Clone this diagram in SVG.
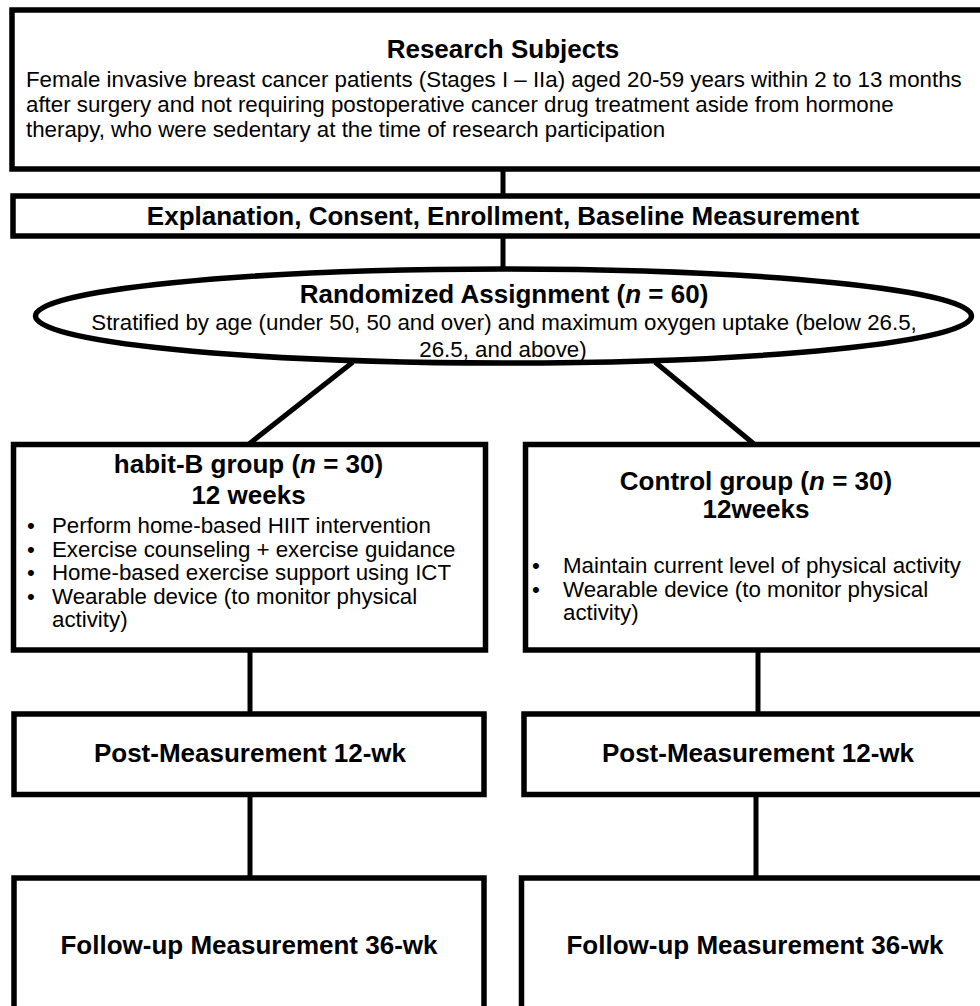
<svg xmlns="http://www.w3.org/2000/svg" width="980" height="1006" viewBox="0 0 980 1006">
<style>
.box{fill:#fff;stroke:#000;stroke-width:5.5}
.ln{stroke:#000;stroke-width:5;fill:none}
text{font-family:"Liberation Sans",Arial,sans-serif;fill:#000}
.b{font-weight:bold;font-size:26px;text-anchor:middle}
.r{font-size:22.3px}
.c{text-anchor:middle}
.i{font-style:italic}
</style>
<rect width="980" height="1006" fill="#fff"/>
<g id="connectors">
<line class="ln" x1="503" y1="169" x2="503" y2="196"/>
<line class="ln" x1="503" y1="236" x2="503" y2="269"/>
<line class="ln" x1="353" y1="362" x2="249" y2="444"/>
<line class="ln" x1="655" y1="362" x2="754" y2="444"/>
<line class="ln" x1="250" y1="650" x2="250" y2="714"/>
<line class="ln" x1="758" y1="650" x2="758" y2="714"/>
<line class="ln" x1="250" y1="794" x2="250" y2="878"/>
<line class="ln" x1="756" y1="794" x2="756" y2="878"/>
</g>
<g id="subjects">
<rect class="box" x="12" y="10" width="980" height="159"/>
<text class="b" x="503" y="58">Research Subjects</text>
<text class="r"><tspan x="26" y="87">Female invasive breast cancer patients (Stages I – IIa) aged 20-59 years within 2 to 13 months</tspan><tspan x="26" y="112">after surgery and not requiring postoperative cancer drug treatment aside from hormone</tspan><tspan x="26" y="137">therapy, who were sedentary at the time of research participation</tspan></text>
</g>
<g id="enrollment">
<rect class="box" x="13" y="196" width="980" height="40"/>
<text class="b" x="503" y="225">Explanation, Consent, Enrollment, Baseline Measurement</text>
</g>
<g id="randomized">
<ellipse class="box" cx="503.5" cy="316" rx="468" ry="47"/>
<text class="b" x="504" y="303">Randomized Assignment (<tspan class="i">n</tspan> = 60)</text>
<text class="r c"><tspan x="504" y="330">Stratified by age (under 50, 50 and over) and maximum oxygen uptake (below 26.5,</tspan><tspan x="503" y="357">26.5, and above)</tspan></text>
</g>
<g id="habitb">
<rect class="box" x="13.5" y="444.5" width="472" height="205.5"/>
<text class="b" x="248.5" y="473">habit-B group (<tspan class="i">n</tspan> = 30)</text>
<text class="b" x="248.5" y="504">12 weeks</text>
<text class="r"><tspan x="27" y="533">•</tspan><tspan x="52" y="533">Perform home-based HIIT intervention</tspan><tspan x="27" y="556.5">•</tspan><tspan x="52" y="556.5">Exercise counseling + exercise guidance</tspan><tspan x="27" y="580">•</tspan><tspan x="52" y="580">Home-based exercise support using ICT</tspan><tspan x="27" y="603.5">•</tspan><tspan x="52" y="603.5">Wearable device (to monitor physical</tspan><tspan x="52" y="627">activity)</tspan></text>
</g>
<g id="control">
<rect class="box" x="525.5" y="444.5" width="470" height="205.5"/>
<text class="b" x="756" y="490">Control group (<tspan class="i">n</tspan> = 30)</text>
<text class="b" x="756" y="518">12weeks</text>
<text class="r"><tspan x="532" y="573">•</tspan><tspan x="563" y="573">Maintain current level of physical activity</tspan><tspan x="532" y="596.5">•</tspan><tspan x="563" y="596.5">Wearable device (to monitor physical</tspan><tspan x="563" y="620">activity)</tspan></text>
</g>
<g id="post-habitb">
<rect class="box" x="14" y="714" width="470" height="80.5"/>
<text class="b" x="250" y="762">Post-Measurement 12-wk</text>
</g>
<g id="post-control">
<rect class="box" x="524" y="714" width="470" height="80.5"/>
<text class="b" x="758" y="762">Post-Measurement 12-wk</text>
</g>
<g id="followup-habitb">
<rect class="box" x="14" y="878" width="470" height="140"/>
<text class="b" x="249" y="954">Follow-up Measurement 36-wk</text>
</g>
<g id="followup-control">
<rect class="box" x="521.5" y="878" width="470" height="140"/>
<text class="b" x="755" y="954">Follow-up Measurement 36-wk</text>
</g>
</svg>
